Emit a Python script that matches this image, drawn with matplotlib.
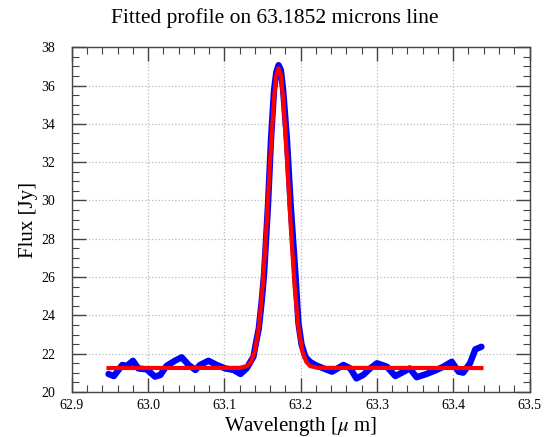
import numpy as np
import matplotlib
matplotlib.use("Agg")
import matplotlib.pyplot as plt
from matplotlib.ticker import MultipleLocator, FormatStrFormatter

plt.rcParams['font.family'] = ['Liberation Serif', 'DejaVu Serif']
plt.rcParams['mathtext.fontset'] = 'stix'

# observed spectrum around the line
wave_obs = [62.948, 62.955, 62.966, 62.972, 62.980, 62.987, 62.998, 63.009, 63.016,
            63.024, 63.035, 63.044, 63.053, 63.062, 63.068, 63.079, 63.090, 63.101,
            63.112, 63.121, 63.129, 63.138, 63.142, 63.145, 63.149, 63.152, 63.157,
            63.161, 63.165, 63.168, 63.171, 63.174, 63.177, 63.182, 63.187, 63.193,
            63.197, 63.201, 63.206, 63.212, 63.219, 63.230, 63.241, 63.256, 63.265,
            63.273, 63.282, 63.291, 63.300, 63.313, 63.324, 63.335, 63.343, 63.352,
            63.365, 63.378, 63.387, 63.398, 63.407, 63.413, 63.422, 63.429, 63.437]
flux_obs = [20.94, 20.83, 21.41, 21.36, 21.63, 21.23, 21.18, 20.80, 20.89,
            21.36, 21.63, 21.81, 21.41, 21.15, 21.41, 21.63, 21.41, 21.23,
            21.15, 20.94, 21.23, 21.84, 22.70, 23.30, 24.80, 26.19, 29.67,
            33.15, 35.75, 36.70, 37.06, 36.80, 35.75, 33.15, 29.67, 26.19,
            23.60, 22.50, 21.84, 21.58, 21.41, 21.23, 21.06, 21.41, 21.23,
            20.71, 20.89, 21.23, 21.50, 21.32, 20.83, 21.06, 21.23, 20.77,
            20.94, 21.15, 21.32, 21.58, 21.06, 21.01, 21.50, 22.23, 22.36]

# fitted profile
wave_fit = [62.948, 63.120, 63.130, 63.135, 63.140, 63.145, 63.150, 63.155, 63.160,
            63.165, 63.168, 63.171, 63.174, 63.177, 63.182, 63.187, 63.192, 63.197,
            63.202, 63.207, 63.212, 63.222, 63.437]
flux_fit = [21.25, 21.26, 21.36, 21.59, 22.16, 23.37, 25.49, 28.59, 32.19,
            35.32, 36.55, 36.90, 36.55, 35.32, 32.19, 28.59, 25.49, 23.37,
            22.16, 21.59, 21.36, 21.26, 21.25]

fig = plt.figure(figsize=(5.49, 4.37), dpi=100)
ax = fig.add_axes([0.131, 0.103, 0.8335, 0.789])

ax.plot(wave_obs, flux_obs, color='blue', lw=4.6, solid_capstyle='round',
        solid_joinstyle='round')
ax.plot(wave_fit, flux_fit, color='red', lw=3.0)

ax.set_xlim(62.9, 63.5)
ax.set_ylim(20, 38)
ax.xaxis.set_major_locator(MultipleLocator(0.1))
ax.xaxis.set_minor_locator(MultipleLocator(0.02))
ax.xaxis.set_major_formatter(FormatStrFormatter('%.1f'))
ax.yaxis.set_major_locator(MultipleLocator(2))
ax.yaxis.set_minor_locator(MultipleLocator(0.5))
ax.tick_params(which='both', direction='in', top=True, right=True,
               labelsize=10, color='#444444')
ax.tick_params(which='major', length=10, width=1)
ax.tick_params(which='minor', length=5, width=0.8)
ax.tick_params(axis='y', which='major', pad=12)
ax.tick_params(axis='x', which='major', pad=5)
ax.grid(True, which='major', linestyle=':', color='#bbbbbb', lw=0.9)
for s in ax.spines.values():
    s.set_color('#444444')
    s.set_linewidth(1)

fig.text(0.5, 0.958, 'Fitted profile on 63.1852 microns line', fontsize=15.5,
         ha='center', va='center')
ax.set_xlabel(r'Wavelength [$\mu$ m]', fontsize=15, labelpad=2)
ax.set_ylabel('Flux [Jy]', fontsize=15, labelpad=2)

fig.savefig('out.png', dpi=100)
